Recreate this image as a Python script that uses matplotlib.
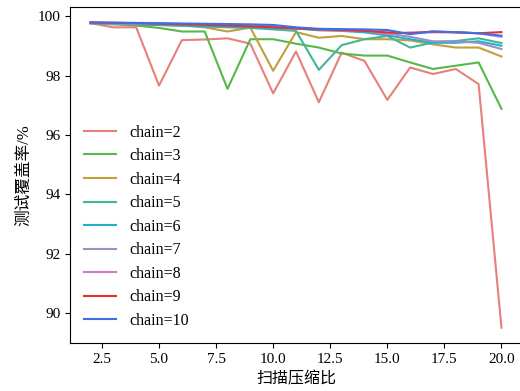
import matplotlib
matplotlib.use("Agg")
import matplotlib.pyplot as plt

plt.rcParams['font.family'] = ['Liberation Serif', 'Noto Sans CJK SC']
plt.rcParams['font.size'] = 11

# scan compression ratio
ratio = list(range(2, 21))

# test coverage (%) per chain length
cov = {}
cov[2] = [99.76, 99.62, 99.62, 97.66, 99.19, 99.21, 99.25, 99.07, 97.40, 98.81,
          97.10, 98.77, 98.49, 97.18, 98.27, 98.05, 98.22, 97.71, 89.52]
cov[3] = [99.76, 99.72, 99.68, 99.60, 99.48, 99.48, 97.55, 99.22, 99.22, 99.07,
          98.94, 98.74, 98.67, 98.67, 98.44, 98.22, 98.33, 98.44, 96.88]
cov[4] = [99.76, 99.74, 99.72, 99.70, 99.68, 99.62, 99.48, 99.61, 98.16, 99.46,
          99.27, 99.33, 99.22, 99.22, 99.18, 99.05, 98.94, 98.94, 98.64]
cov[5] = [99.76, 99.74, 99.72, 99.70, 99.68, 99.65, 99.62, 99.60, 99.55, 99.50,
          98.19, 99.02, 99.22, 99.33, 98.94, 99.11, 99.16, 99.25, 99.09]
cov[6] = [99.76, 99.74, 99.72, 99.70, 99.68, 99.66, 99.64, 99.62, 99.60, 99.58,
          99.52, 99.50, 99.45, 99.35, 99.22, 99.10, 99.10, 99.15, 99.00]
cov[7] = [99.77, 99.75, 99.74, 99.73, 99.72, 99.70, 99.68, 99.66, 99.64, 99.60,
          99.55, 99.52, 99.50, 99.42, 99.30, 99.15, 99.15, 99.10, 98.89]
cov[8] = [99.77, 99.76, 99.75, 99.74, 99.73, 99.72, 99.70, 99.68, 99.65, 99.60,
          99.55, 99.52, 99.50, 99.40, 99.45, 99.45, 99.45, 99.42, 99.30]
cov[9] = [99.78, 99.77, 99.76, 99.74, 99.72, 99.70, 99.68, 99.65, 99.62, 99.58,
          99.55, 99.53, 99.50, 99.45, 99.42, 99.48, 99.45, 99.42, 99.46]
cov[10] = [99.79, 99.78, 99.77, 99.76, 99.75, 99.74, 99.73, 99.72, 99.70, 99.62,
           99.57, 99.56, 99.55, 99.53, 99.39, 99.48, 99.46, 99.42, 99.34]

colors = ['#e8807a', '#55b848', '#bfa03c', '#42b59a', '#26b0c8',
          '#9a90c4', '#d07cbe', '#e03232', '#3f6fe0']

fig = plt.figure(figsize=(5.2, 3.91), dpi=100)
ax = fig.add_axes([70 / 520, 1 - 343 / 391, 452 / 520, 336 / 391])

for (chain, vals), c in zip(cov.items(), colors):
    ax.plot(ratio, vals, color=c, lw=1.5, label='chain=%d' % chain)

ax.set_xlabel('扫描压缩比', fontsize=11.5)
ax.set_ylabel('测试覆盖率/%', fontsize=12)
ax.set_xticks([2.5, 5.0, 7.5, 10.0, 12.5, 15.0, 17.5, 20.0])
ax.set_yticks([90, 92, 94, 96, 98, 100])
ax.legend(loc='lower left', frameon=False, fontsize=11.5, labelspacing=0.47)

fig.savefig('out.png', dpi=100)
